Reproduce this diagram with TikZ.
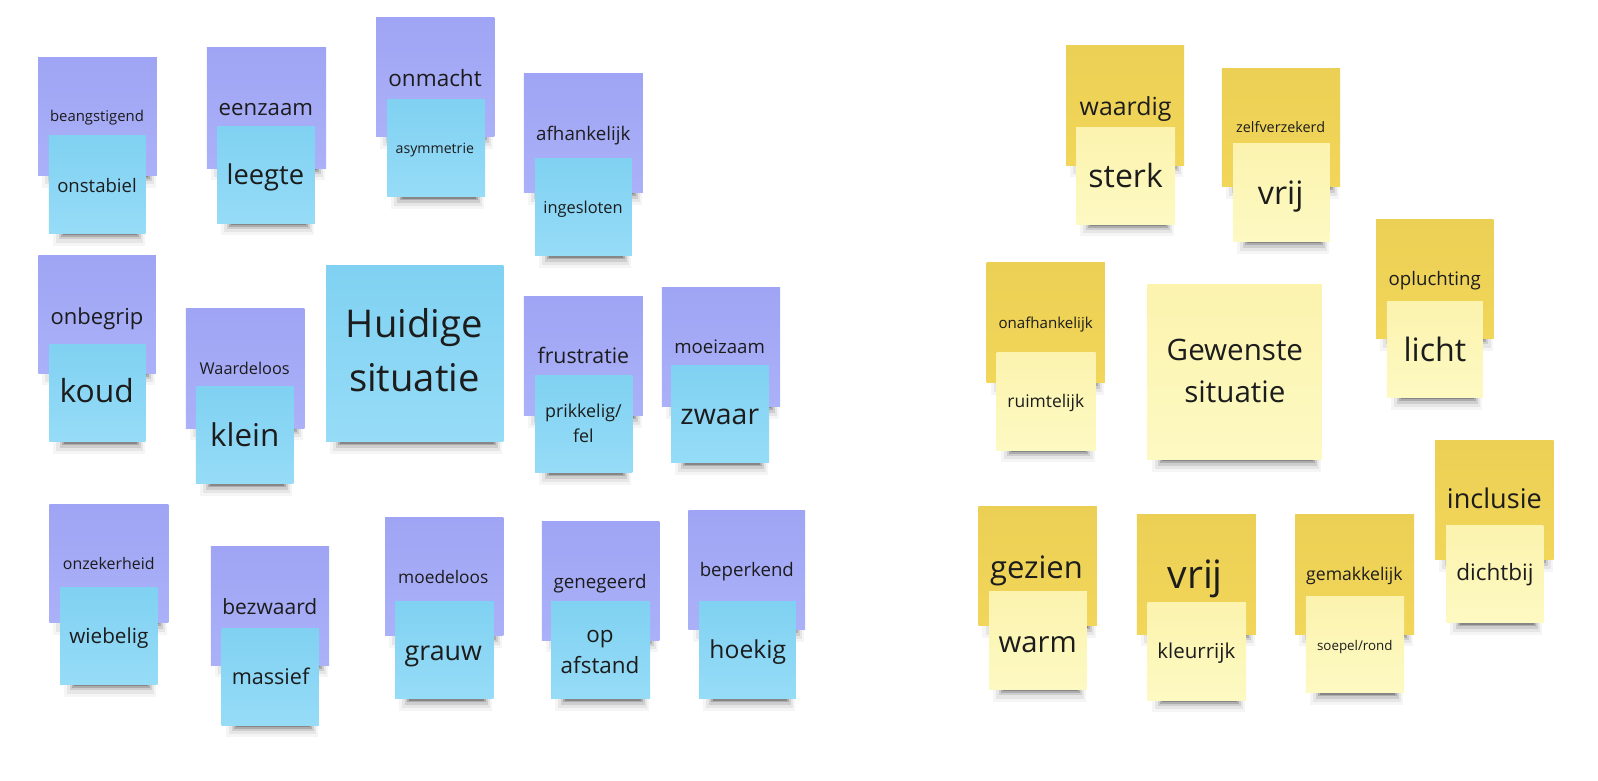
\documentclass[tikz,border=0pt]{standalone}
\usepackage{fontspec}
\setmainfont{Open Sans}
\definecolor{pTop}{HTML}{9FA4F4}
\definecolor{pBot}{HTML}{ABB1F8}
\definecolor{bTop}{HTML}{80D1F2}
\definecolor{bBot}{HTML}{96DCF7}
\definecolor{dTop}{HTML}{EBD055}
\definecolor{dBot}{HTML}{F1D65A}
\definecolor{lTop}{HTML}{FBF3AE}
\definecolor{lBot}{HTML}{FDF9C2}
\definecolor{ink}{HTML}{1C1C1C}
\tikzset{
  notebase/.style={inner sep=0pt, outer sep=0pt, draw=none},
  purplenote/.style={notebase, top color=pTop, bottom color=pBot},
  bluenote/.style={notebase, top color=bTop, bottom color=bBot},
  darknote/.style={notebase, top color=dTop, bottom color=dBot},
  lightnote/.style={notebase, top color=lTop, bottom color=lBot},
  biglbl/.style={anchor=base, inner sep=0pt, outer sep=0pt, text=ink},
  lbl/.style={biglbl, yshift=-1.25pt},
}
% #1 name, #2 style, #3 left, #4 top, #5 right, #6 bottom
\newcommand\stickynote[6]{%
  \fill[black, opacity=0.04] ({#3+4},{#6-3}) rectangle ({#5-1},{#6+12});
  \fill[black, opacity=0.06] ({#3+7},{#6-3}) rectangle ({#5-3},{#6+9});
  \fill[black, opacity=0.10] ({#3+10},{#6-3}) rectangle ({#5-5},{#6+6});
  \fill[black, opacity=0.16] ({#3+12},{#6-3}) rectangle ({#5-7},{#6+3.5});
  \fill[black, opacity=0.22] ({#3+14},{#6-3}) rectangle ({#5-9},{#6+1.8});
  \node[#2, minimum width={(#5-#3)*0.5pt}, minimum height={(#6-#4)*0.5pt}] (#1) at ({(#3+#5)/2},{(#4+#6)/2}) {};%
}
\newcommand\fsz[1]{\fontsize{#1}{#1}\selectfont}
\begin{document}
\begin{tikzpicture}[x=0.5pt,y=-0.5pt]
\useasboundingbox (0,0) rectangle (1568,765.4);
\fill[white] (0,0) rectangle (1568,765.4);

% ---------- Huidige situatie (left) ----------
\stickynote{beangstigend}{purplenote}{37.5}{56}{154}{172}
\node[lbl, font=\fsz{7.3}] (tbeangstigend) at (95.2,116.8) {beangstigend};
\stickynote{onstabiel}{bluenote}{48}{133}{143}{229}
\node[lbl, font=\fsz{9.1}] (tonstabiel) at (95.2,185.9) {onstabiel};

\stickynote{eenzaam}{purplenote}{203}{47}{320}{165}
\node[lbl, font=\fsz{10.9}] (teenzaam) at (260.9,111.2) {eenzaam};
\stickynote{leegte}{bluenote}{213}{124}{309}{219}
\node[lbl, font=\fsz{13.4}] (tleegte) at (260.4,178.9) {leegte};

\stickynote{onmacht}{purplenote}{369}{17.5}{485}{134}
\node[lbl, font=\fsz{11.05}] (tonmacht) at (426.9,81.9) {onmacht};
\stickynote{asymmetrie}{bluenote}{380}{98}{476}{193}
\node[lbl, font=\fsz{6.95}] (tasymmetrie) at (426.7,147.8) {asymmetrie};

\stickynote{afhankelijk}{purplenote}{514}{72.6}{630.7}{189}
\node[lbl, font=\fsz{9.2}] (tafhankelijk) at (572.4,135.8) {afhankelijk};
\stickynote{ingesloten}{bluenote}{525}{156}{620}{251}
\node[lbl, font=\fsz{8.05}] (tingesloten) at (572.1,207.1) {ingesloten};

\stickynote{onbegrip}{purplenote}{37.6}{251}{153}{366}
\node[lbl, font=\fsz{10.8}] (tonbegrip) at (95.2,315.8) {onbegrip};
\stickynote{koud}{bluenote}{48.4}{338}{143}{433.5}
\node[lbl, font=\fsz{15.6}] (tkoud) at (95,392.4) {koud};

\stickynote{waardeloos}{purplenote}{182.5}{303}{298.6}{420}
\node[lbl, font=\fsz{8}] (twaardeloos) at (240.1,365.3) {Waardeloos};
\stickynote{klein}{bluenote}{192.3}{379.5}{287.9}{474.7}
\node[lbl, font=\fsz{15.4}] (tklein) at (240.1,435.3) {klein};

\stickynote{huidige}{bluenote}{320}{260.7}{494}{433.5}
\node[biglbl, font=\fsz{18.75}] (thuidige1) at (406.6,331.5) {Huidige};
\node[biglbl, font=\fsz{18.75}] (thuidige2) at (406.6,384) {situatie};

\stickynote{frustratie}{purplenote}{514}{291}{630.7}{408}
\node[lbl, font=\fsz{10.45}] (tfrustratie) at (572.4,354) {frustratie};
\stickynote{prikkelig}{bluenote}{525}{368}{620.5}{463.9}
\node[lbl, font=\fsz{8.75}] (tprikkelig1) at (572.4,407.1) {prikkelig/};
\node[lbl, font=\fsz{8.75}] (tprikkelig2) at (572.4,431.7) {fel};

\stickynote{moeizaam}{purplenote}{649.4}{282.3}{765.5}{399}
\node[lbl, font=\fsz{9.15}] (tmoeizaam) at (706.1,344.4) {moeizaam};
\stickynote{zwaar}{bluenote}{658.5}{359}{754.7}{454}
\node[lbl, font=\fsz{13.95}] (tzwaar) at (706.3,414.5) {zwaar};

\stickynote{onzekerheid}{purplenote}{48.4}{494.9}{165.2}{610.7}
\node[lbl, font=\fsz{7.8}] (tonzekerheid) at (106.7,556) {onzekerheid};
\stickynote{wiebelig}{bluenote}{58.9}{576}{154.4}{671.5}
\node[lbl, font=\fsz{10.15}] (twiebelig) at (106.8,628.5) {wiebelig};

\stickynote{bezwaard}{purplenote}{207}{536.5}{322.9}{652.6}
\node[lbl, font=\fsz{10.3}] (tbezwaard) at (264.7,600) {bezwaard};
\stickynote{massief}{bluenote}{217.5}{616.6}{313}{711.5}
\node[lbl, font=\fsz{10.6}] (tmassief) at (265.5,668.7) {massief};

\stickynote{moedeloos}{purplenote}{377.8}{508}{494}{624}
\node[lbl, font=\fsz{8.5}] (tmoedeloos) at (435,569.9) {moedeloos};
\stickynote{grauw}{bluenote}{387.6}{590.5}{484}{685.6}
\node[lbl, font=\fsz{13.15}] (tgrauw) at (435,646) {grauw};

\stickynote{genegeerd}{purplenote}{531.6}{512}{647}{628}
\node[lbl, font=\fsz{9.2}] (tgenegeerd) at (588.8,574.9) {genegeerd};
\stickynote{opafstand}{bluenote}{540.7}{589.8}{637.9}{685.6}
\node[lbl, font=\fsz{11}] (topafstand1) at (588.8,628.4) {op};
\node[lbl, font=\fsz{11}] (topafstand2) at (588.8,658) {afstand};

\stickynote{beperkend}{purplenote}{675.5}{501.2}{790}{617.6}
\node[lbl, font=\fsz{9.15}] (tbeperkend) at (732.8,563.6) {beperkend};
\stickynote{hoekig}{bluenote}{686}{589.8}{781}{685.6}
\node[lbl, font=\fsz{12.1}] (thoekig) at (733.7,643.7) {hoekig};

% ---------- Gewenste situatie (right) ----------
\stickynote{waardig}{darknote}{1046}{45}{1162}{162}
\node[lbl, font=\fsz{12.2}] (twaardig) at (1104.5,110.6) {waardig};
\stickynote{sterk}{lightnote}{1056}{125}{1153}{220}
\node[lbl, font=\fsz{15.7}] (tsterk) at (1104.5,181.9) {sterk};

\stickynote{zelfverzekerd}{darknote}{1199}{67}{1315}{183}
\node[lbl, font=\fsz{7.05}] (tzelfverzekerd) at (1256.6,127.5) {zelfverzekerd};
\stickynote{vrijA}{lightnote}{1210}{141}{1305}{237}
\node[lbl, font=\fsz{15.8}] (tvrijA) at (1256.6,198.2) {vrij};

\stickynote{opluchting}{darknote}{1350.3}{214.9}{1465.5}{332}
\node[lbl, font=\fsz{9.15}] (topluchting) at (1407.8,277.4) {opluchting};
\stickynote{licht}{lightnote}{1360.8}{296}{1455}{390}
\node[lbl, font=\fsz{15.8}] (tlicht) at (1408,352) {licht};

\stickynote{onafhankelijk}{darknote}{968}{258}{1084}{375.6}
\node[lbl, font=\fsz{7.4}] (tonafhankelijk) at (1026,319.7) {onafhankelijk};
\stickynote{ruimtelijk}{lightnote}{978}{346}{1075}{441.6}
\node[lbl, font=\fsz{8.55}] (truimtelijk) at (1026.2,397.8) {ruimtelijk};

\stickynote{gewenste}{lightnote}{1126}{279}{1297}{451}
\node[biglbl, font=\fsz{14.5}] (tgewenste1) at (1211.7,353.5) {Gewenste};
\node[biglbl, font=\fsz{14.5}] (tgewenste2) at (1211.7,394.5) {situatie};

\stickynote{inclusie}{darknote}{1408.2}{431.8}{1524.4}{548.9}
\node[lbl, font=\fsz{13.3}] (tinclusie) at (1466.3,496.2) {inclusie};
\stickynote{dichtbij}{lightnote}{1419}{515.2}{1514.5}{611}
\node[lbl, font=\fsz{11.05}] (tdichtbij) at (1466.8,567) {dichtbij};

\stickynote{gezien}{darknote}{960}{496.6}{1076.2}{614}
\node[lbl, font=\fsz{15.2}] (tgezien) at (1017,564.9) {gezien};
\stickynote{warm}{lightnote}{970.6}{580.7}{1066.4}{676.4}
\node[lbl, font=\fsz{14.35}] (twarm) at (1018.2,637.4) {warm};

\stickynote{vrijB}{darknote}{1115.5}{504.7}{1232.3}{622.2}
\node[lbl, font=\fsz{19.15}] (tvrijB) at (1172.7,574.6) {vrij};
\stickynote{kleurrijk}{lightnote}{1126}{591.4}{1222.8}{687}
\node[lbl, font=\fsz{10.05}] (tkleurrijk) at (1173.9,644) {kleurrijk};

\stickynote{gemakkelijk}{darknote}{1270.9}{504.7}{1387.6}{622.2}
\node[lbl, font=\fsz{8.65}] (tgemakkelijk) at (1329,566.7) {gemakkelijk};
\stickynote{soepelrond}{lightnote}{1281.3}{584.9}{1377.8}{679.8}
\node[lbl, font=\fsz{6.55}] (tsoepelrond) at (1329.4,635.5) {soepel/rond};
\end{tikzpicture}
\end{document}
